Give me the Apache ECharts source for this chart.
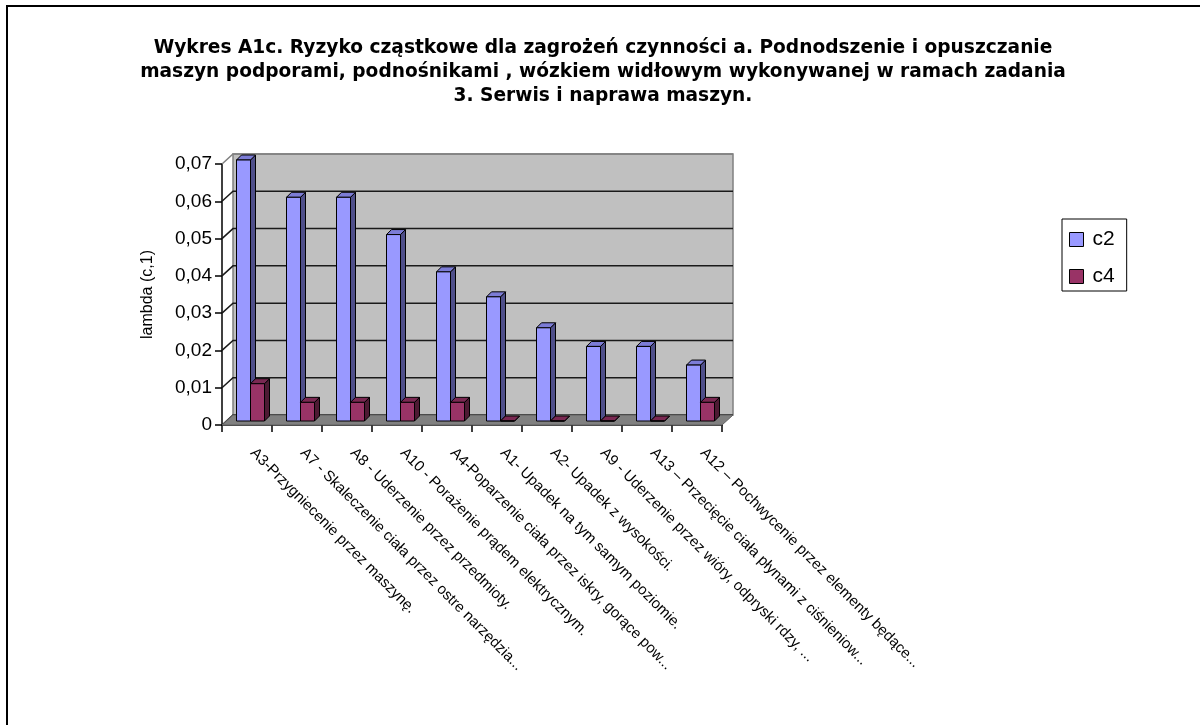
<!DOCTYPE html>
<html>
<head>
<meta charset="utf-8">
<script src="https://cdn.jsdelivr.net/npm/echarts@6/dist/echarts.min.js"></script>
<style>
  html, body { margin: 0; padding: 0; background: #fff; }
  #chart { width: 1200px; height: 725px; }
</style>
</head>
<body>
<div id="chart"></div>
<script>
// Hazard categories (x axis)
const categories = [
  'A3-Przygniecenie przez maszynę.',
  'A7 - Skaleczenie ciała przez ostre narzędzia...',
  'A8 - Uderzenie przez przedmioty.',
  'A10 - Porażenie prądem elektrycznym.',
  'A4-Poparzenie ciała przez iskry, gorące pow...',
  'A1- Upadek na tym samym poziomie.',
  'A2- Upadek z wysokości.',
  'A9 - Uderzenie przez wióry, odpryski rdzy, ...',
  'A13 – Przecięcie ciała płynami z ciśnieniow...',
  'A12 – Pochwycenie przez elementy będące...'
];
// Partial risk values per criterion
const c2 = [0.07, 0.06, 0.06, 0.05, 0.04, 0.0333, 0.025, 0.02, 0.02, 0.015];
const c4 = [0.01, 0.005, 0.005, 0.005, 0.005, 0, 0, 0, 0, 0.005];
// Value axis ticks
const yTicks = [0, 0.01, 0.02, 0.03, 0.04, 0.05, 0.06, 0.07];

const FONT = 'Liberation Sans, Arial, sans-serif';
const TITLE_FONT = 'DejaVu Sans, Liberation Sans, sans-serif';
const WALL_DEPTH = [11, -10];   // offset of back wall from front plane (px)
const BAR_SHIFT = [3, -4];      // bar front face offset inside the floor
const BAR_DEPTH = [5, -5];      // bar thickness in depth

const chart = echarts.init(document.getElementById('chart'));

// back wall
function renderWall(params, api) {
  const cs = params.coordSys;
  const dx = WALL_DEPTH[0], dy = WALL_DEPTH[1];
  return {
    type: 'rect',
    shape: { x: cs.x + dx, y: cs.y + dy, width: cs.width, height: cs.height },
    style: { fill: '#C0C0C0', stroke: '#808080', lineWidth: 1.5 }
  };
}
// floor
function renderFloor(params, api) {
  const cs = params.coordSys;
  const dx = WALL_DEPTH[0], dy = WALL_DEPTH[1];
  const yb = cs.y + cs.height;
  return {
    type: 'polygon',
    shape: { points: [[cs.x, yb], [cs.x + cs.width, yb], [cs.x + cs.width + dx, yb + dy], [cs.x + dx, yb + dy]] },
    style: { fill: '#808080', stroke: '#606060', lineWidth: 1 }
  };
}
// gridlines running across side wall and back wall
function renderGrid(params, api) {
  const cs = params.coordSys;
  const v = api.value(1);
  const y = api.coord([0, v])[1];
  const dx = WALL_DEPTH[0], dy = WALL_DEPTH[1];
  const top = v >= yTicks[yTicks.length - 1];
  return {
    type: 'polyline',
    shape: { points: [[cs.x, y], [cs.x + dx, y + dy], [cs.x + dx + cs.width, y + dy]] },
    style: { fill: null, stroke: top ? '#808080' : '#1a1a1a', lineWidth: 1.5 }
  };
}

// pseudo-3D bar: side face, top face, front face
function barRenderer(slot, front, side, topc) {
  return function (params, api) {
    const i = api.value(0), v = api.value(1);
    const band = api.size([1, 0])[0];
    const w = band * 0.28;
    const base = api.coord([i, 0]);
    const x0 = base[0] - band / 2 + band * 0.23 + slot * w + BAR_SHIFT[0];
    const yb = base[1] + BAR_SHIFT[1];
    const yt = api.coord([i, v])[1] + BAR_SHIFT[1];
    const dx = BAR_DEPTH[0], dy = BAR_DEPTH[1];
    const stroke = { stroke: '#000', lineWidth: 1 };
    return {
      type: 'group',
      children: [
        { type: 'polygon', shape: { points: [[x0 + w, yt], [x0 + w + dx, yt + dy], [x0 + w + dx, yb + dy], [x0 + w, yb]] },
          style: Object.assign({ fill: side }, stroke) },
        { type: 'polygon', shape: { points: [[x0, yt], [x0 + dx, yt + dy], [x0 + w + dx, yt + dy], [x0 + w, yt]] },
          style: Object.assign({ fill: topc }, stroke) },
        { type: 'rect', shape: { x: x0, y: yt, width: w, height: yb - yt },
          style: Object.assign({ fill: front }, stroke) }
      ]
    };
  };
}

const option = {
  animation: false,
  backgroundColor: '#fff',
  title: {
    text: 'Wykres A1c. Ryzyko cząstkowe dla zagrożeń czynności a. Podnodszenie i opuszczanie\n' +
          'maszyn podporami, podnośnikami , wózkiem widłowym wykonywanej w ramach zadania\n' +
          '3. Serwis i naprawa maszyn.',
    left: 598,
    textAlign: 'center',
    top: 31,
    textStyle: { fontFamily: TITLE_FONT, fontSize: 18.6, fontWeight: 'bold', color: '#000', lineHeight: 24 }
  },
  legend: {
    orient: 'vertical',
    left: 1062,
    top: 219,
    padding: [10, 12, 4, 7],
    itemGap: 16,
    itemWidth: 14,
    itemHeight: 14,
    icon: 'rect',
    borderColor: '#000',
    borderWidth: 1,
    itemStyle: { borderColor: '#000', borderWidth: 1 },
    textStyle: { fontFamily: FONT, fontSize: 21, color: '#000', padding: [0, 0, 0, 4] },
    data: ['c2', 'c4']
  },
  grid: { left: 222, top: 164, width: 500, height: 261, containLabel: false },
  xAxis: {
    type: 'category',
    data: categories,
    boundaryGap: true,
    axisLine: { lineStyle: { color: '#000', width: 1.5 } },
    axisTick: { show: true, length: 7, alignWithLabel: false, lineStyle: { color: '#000', width: 1.5 } },
    axisLabel: { rotate: -45, interval: 0, margin: 20, padding: [0, 0, 0, 8], fontFamily: FONT, fontSize: 15, color: '#000' },
    splitLine: { show: false }
  },
  yAxis: {
    type: 'value',
    min: 0,
    max: 0.07,
    interval: 0.01,
    name: 'lambda (c,1)',
    nameLocation: 'middle',
    nameGap: 66,
    nameTextStyle: { fontFamily: FONT, fontSize: 16, color: '#000' },
    axisLine: { show: true, lineStyle: { color: '#000', width: 1.5 } },
    axisTick: { show: true, length: 7, lineStyle: { color: '#000', width: 1.5 } },
    axisLabel: {
      margin: 10, fontFamily: FONT, fontSize: 19, color: '#000',
      formatter: v => (v === 0 ? '0' : v.toFixed(2).replace('.', ','))
    },
    splitLine: { show: false }
  },
  graphic: [{
    type: 'rect',
    shape: { x: 7, y: 6, width: 1260, height: 800 },
    style: { fill: null, stroke: '#000', lineWidth: 2 },
    silent: true
  }],
  series: [
    { type: 'custom', name: 'wall', z: 1, renderItem: renderWall, data: [[0, 0]], silent: true },
    { type: 'custom', name: 'grid', z: 2, renderItem: renderGrid, data: yTicks.map(v => [0, v]), silent: true },
    { type: 'custom', name: 'floor', z: 3, renderItem: renderFloor, data: [[0, 0]], silent: true },
    {
      type: 'custom', name: 'c2', z: 4, color: '#9999FF',
      itemStyle: { color: '#9999FF', borderColor: '#000', borderWidth: 1 },
      renderItem: barRenderer(0, '#9999FF', '#4F4F8A', '#7C7CD6'),
      data: c2.map((v, i) => [i, v])
    },
    {
      type: 'custom', name: 'c4', z: 5, color: '#993366',
      itemStyle: { color: '#993366', borderColor: '#000', borderWidth: 1 },
      renderItem: barRenderer(1, '#993366', '#4D1A33', '#7A2952'),
      data: c4.map((v, i) => [i, v])
    }
  ]
};
chart.setOption(option);
</script>
</body>
</html>
